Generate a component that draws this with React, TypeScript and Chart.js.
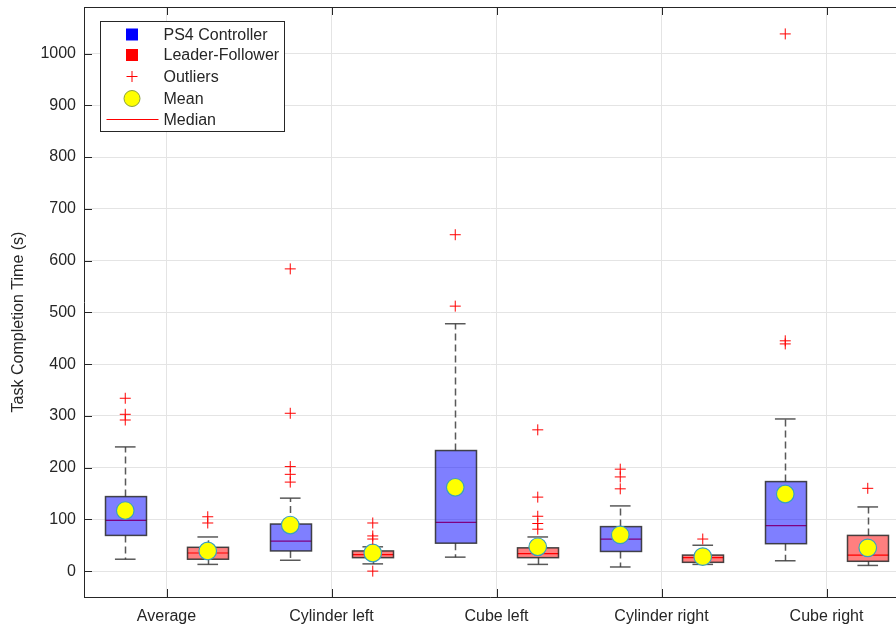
import React, { useEffect, useRef } from 'react';
import { Chart, registerables } from 'chart.js';

Chart.register(...registerables);

const categories = ['Average', 'Cylinder left', 'Cube left', 'Cylinder right', 'Cube right'];
const yTicks = [0, 100, 200, 300, 400, 500, 600, 700, 800, 900, 1000];

const ps4Min = [23, 21, 27, 8, 20];
const ps4Q1 = [69, 39, 54, 38, 53];
const ps4Median = [98, 58, 94, 62, 88];
const ps4Q3 = [144, 91, 233, 86, 173];
const ps4Max = [240, 141, 478, 126, 294];
const ps4Mean = [117, 89, 162, 70, 149];
const ps4Outliers = [
  [334, 303, 292],
  [584, 305, 202, 187, 172],
  [650, 512],
  [197, 182, 159],
  [1038, 445, 439],
];

const lfMin = [13, 14, 13, 13, 11];
const lfQ1 = [23, 26, 26, 17, 19];
const lfMedian = [35, 32, 34, 26, 31];
const lfQ3 = [46, 39, 45, 31, 69];
const lfMax = [66, 47, 66, 50, 124];
const lfMean = [39, 35, 47, 28, 45];
const lfOutliers = [
  [105, 93],
  [93, 68, 62, 0],
  [273, 143, 106, 92, 81],
  [62],
  [160],
];

const FONT = '"Liberation Sans", Arial, Helvetica, sans-serif';
const TEXT = '#262626';

export default function App() {
  const ref = useRef<HTMLCanvasElement>(null);

  useEffect(() => {
    const canvas = ref.current;
    if (!canvas) return;

    const boxWidth = 0.25;
    const capWidth = 0.125;
    const groups = [
      { offset: -0.25, fill: 'rgba(0,0,255,0.5)', min: ps4Min, q1: ps4Q1, med: ps4Median, q3: ps4Q3, max: ps4Max },
      { offset: 0.25, fill: 'rgba(255,0,0,0.5)', min: lfMin, q1: lfQ1, med: lfMedian, q3: lfQ3, max: lfMax },
    ];

    const line = (ctx: CanvasRenderingContext2D, x1: number, y1: number, x2: number, y2: number) => {
      ctx.beginPath();
      ctx.moveTo(x1, y1);
      ctx.lineTo(x2, y2);
      ctx.stroke();
    };

    const boxPlugin = {
      id: 'boxes',
      beforeDatasetsDraw(chart: any) {
        const { ctx, scales } = chart;
        const x = scales.x;
        const y = scales.y;
        ctx.save();
        groups.forEach((g) => {
          categories.forEach((_, i) => {
            const c = i + 1 + g.offset;
            const xc = Math.round(x.getPixelForValue(c)) + 0.5;
            const xl = Math.round(x.getPixelForValue(c - boxWidth / 2)) + 0.5;
            const xr = Math.round(x.getPixelForValue(c + boxWidth / 2)) + 0.5;
            const cl = x.getPixelForValue(c - capWidth / 2);
            const cr = x.getPixelForValue(c + capWidth / 2);
            const yMin = y.getPixelForValue(g.min[i]);
            const yQ1 = y.getPixelForValue(g.q1[i]);
            const yMed = y.getPixelForValue(g.med[i]);
            const yQ3 = y.getPixelForValue(g.q3[i]);
            const yMax = y.getPixelForValue(g.max[i]);
            // whiskers
            ctx.strokeStyle = 'rgba(60,60,60,0.85)';
            ctx.lineWidth = 1.5;
            ctx.setLineDash([7, 4]);
            line(ctx, xc, yQ3, xc, yMax);
            line(ctx, xc, yQ1, xc, yMin);
            ctx.setLineDash([]);
            line(ctx, cl, yMax, cr, yMax);
            line(ctx, cl, yMin, cr, yMin);
            // median (under translucent fill)
            ctx.strokeStyle = '#ff0000';
            ctx.lineWidth = 1.2;
            line(ctx, xl, yMed, xr, yMed);
            // box
            ctx.fillStyle = g.fill;
            ctx.fillRect(xl, yQ3, xr - xl, yQ1 - yQ3);
            ctx.strokeStyle = 'rgba(40,40,40,0.85)';
            ctx.lineWidth = 1.5;
            ctx.strokeRect(xl, yQ3, xr - xl, yQ1 - yQ3);
          });
        });
        ctx.restore();
      },
    };

    const framePlugin = {
      id: 'frame',
      afterDatasetsDraw(chart: any) {
        const { ctx, chartArea, scales } = chart;
        const { left, right, top, bottom } = chartArea;
        ctx.save();
        ctx.strokeStyle = TEXT;
        ctx.lineWidth = 1;
        line(ctx, left, top + 0.5, right, top + 0.5);
        yTicks.forEach((v) => {
          const py = Math.round(scales.y.getPixelForValue(v)) + 0.5;
          line(ctx, left, py, left + 8, py);
        });
        categories.forEach((_, i) => {
          const px = Math.round(scales.x.getPixelForValue(i + 1)) + 0.5;
          line(ctx, px, bottom, px, bottom - 8);
          line(ctx, px, top, px, top + 8);
        });
        // y axis title
        ctx.fillStyle = TEXT;
        ctx.font = `16px ${FONT}`;
        ctx.textAlign = 'center';
        ctx.textBaseline = 'middle';
        ctx.translate(19, 322);
        ctx.rotate(-Math.PI / 2);
        ctx.fillText('Task Completion Time (s)', 0, 0);
        ctx.restore();
      },
    };

    const legendPlugin = {
      id: 'customLegend',
      afterDraw(chart: any) {
        const { ctx, chartArea } = chart;
        const bx = chartArea.left + 16.5;
        const by = chartArea.top + 14.5;
        const bw = 184;
        const bh = 110;
        ctx.save();
        ctx.fillStyle = '#ffffff';
        ctx.fillRect(bx, by, bw, bh);
        ctx.strokeStyle = TEXT;
        ctx.lineWidth = 1;
        ctx.strokeRect(bx, by, bw, bh);
        const mx = bx + 31.5;
        const tx = bx + 63;
        const rows = [13, 33.5, 55, 77, 98];
        const labels = ['PS4 Controller', 'Leader-Follower', 'Outliers', 'Mean', 'Median'];
        rows.forEach((r, k) => {
          const cy = by + r;
          if (k === 0 || k === 1) {
            ctx.fillStyle = k === 0 ? '#0000ff' : '#ff0000';
            ctx.fillRect(mx - 6, cy - 6, 12, 12);
          } else if (k === 2) {
            ctx.strokeStyle = '#ff0000';
            ctx.lineWidth = 1;
            line(ctx, mx - 5.5, cy, mx + 5.5, cy);
            line(ctx, mx, cy - 5.5, mx, cy + 5.5);
          } else if (k === 3) {
            ctx.beginPath();
            ctx.arc(mx, cy, 8, 0, Math.PI * 2);
            ctx.fillStyle = '#ffff00';
            ctx.fill();
            ctx.strokeStyle = '#8aa040';
            ctx.lineWidth = 1;
            ctx.stroke();
          } else {
            ctx.strokeStyle = '#ff0000';
            ctx.lineWidth = 1;
            line(ctx, bx + 6, cy, bx + 58, cy);
          }
          ctx.fillStyle = TEXT;
          ctx.font = `16px ${FONT}`;
          ctx.textAlign = 'left';
          ctx.textBaseline = 'middle';
          ctx.fillText(labels[k], tx, cy + 1);
        });
        ctx.restore();
      },
    };

    const outlierPoints: { x: number; y: number }[] = [];
    ps4Outliers.forEach((arr, i) => arr.forEach((v) => outlierPoints.push({ x: i + 1 - 0.25, y: v })));
    lfOutliers.forEach((arr, i) => arr.forEach((v) => outlierPoints.push({ x: i + 1 + 0.25, y: v })));
    const meanPoints = [
      ...ps4Mean.map((v, i) => ({ x: i + 1 - 0.25, y: v })),
      ...lfMean.map((v, i) => ({ x: i + 1 + 0.25, y: v })),
    ];

    const xMax = 0.5 + 812 / 165;

    const chart = new Chart(canvas, {
      type: 'scatter',
      data: {
        datasets: [
          {
            label: 'Outliers',
            data: outlierPoints,
            pointStyle: 'cross',
            pointRadius: 5.5,
            pointHoverRadius: 5.5,
            borderColor: '#ff0000',
            backgroundColor: '#ff0000',
            borderWidth: 1,
          },
          {
            label: 'Mean',
            data: meanPoints,
            pointStyle: 'circle',
            pointRadius: 8.8,
            pointHoverRadius: 8.8,
            backgroundColor: '#ffff00',
            borderColor: '#3a9fc0',
            borderWidth: 1.2,
          },
        ],
      },
      options: {
        responsive: false,
        animation: false,
        events: [],
        layout: { autoPadding: false, padding: { top: 7, left: 0, right: 0, bottom: 0 } },
        plugins: { legend: { display: false }, tooltip: { enabled: false } },
        scales: {
          x: {
            type: 'linear',
            min: 0.5,
            max: xMax,
            afterBuildTicks: (s: any) => {
              s.ticks = categories.map((_, i) => ({ value: i + 1 }));
            },
            afterFit: (s: any) => {
              s.height = 31;
              s.paddingLeft = 0;
              s.paddingRight = 0;
            },
            ticks: {
              autoSkip: false,
              maxRotation: 0,
              padding: 10,
              color: TEXT,
              font: { family: FONT, size: 16 },
              callback: (_v: any, idx: number) => categories[idx],
            },
            grid: { color: '#e4e4e4', drawTicks: false, lineWidth: 1 },
            border: { display: true, color: TEXT, width: 1 },
          },
          y: {
            type: 'linear',
            min: -50,
            max: 1090,
            afterBuildTicks: (s: any) => {
              s.ticks = yTicks.map((v) => ({ value: v }));
            },
            afterFit: (s: any) => {
              s.width = 84;
              s.paddingTop = 0;
              s.paddingBottom = 0;
            },
            ticks: {
              padding: 8,
              color: TEXT,
              font: { family: FONT, size: 16 },
              callback: (v: any) => String(v),
            },
            grid: { color: '#e4e4e4', drawTicks: false, lineWidth: 1 },
            border: { display: true, color: TEXT, width: 1 },
          },
        },
      },
      plugins: [boxPlugin, framePlugin, legendPlugin],
    });

    return () => chart.destroy();
  }, []);

  return (
    <div style={{ position: 'fixed', left: 0, top: 0, width: 896, height: 628, background: '#ffffff' }}>
      <canvas ref={ref} width={896} height={628} style={{ width: 896, height: 628, display: 'block' }} />
    </div>
  );
}
